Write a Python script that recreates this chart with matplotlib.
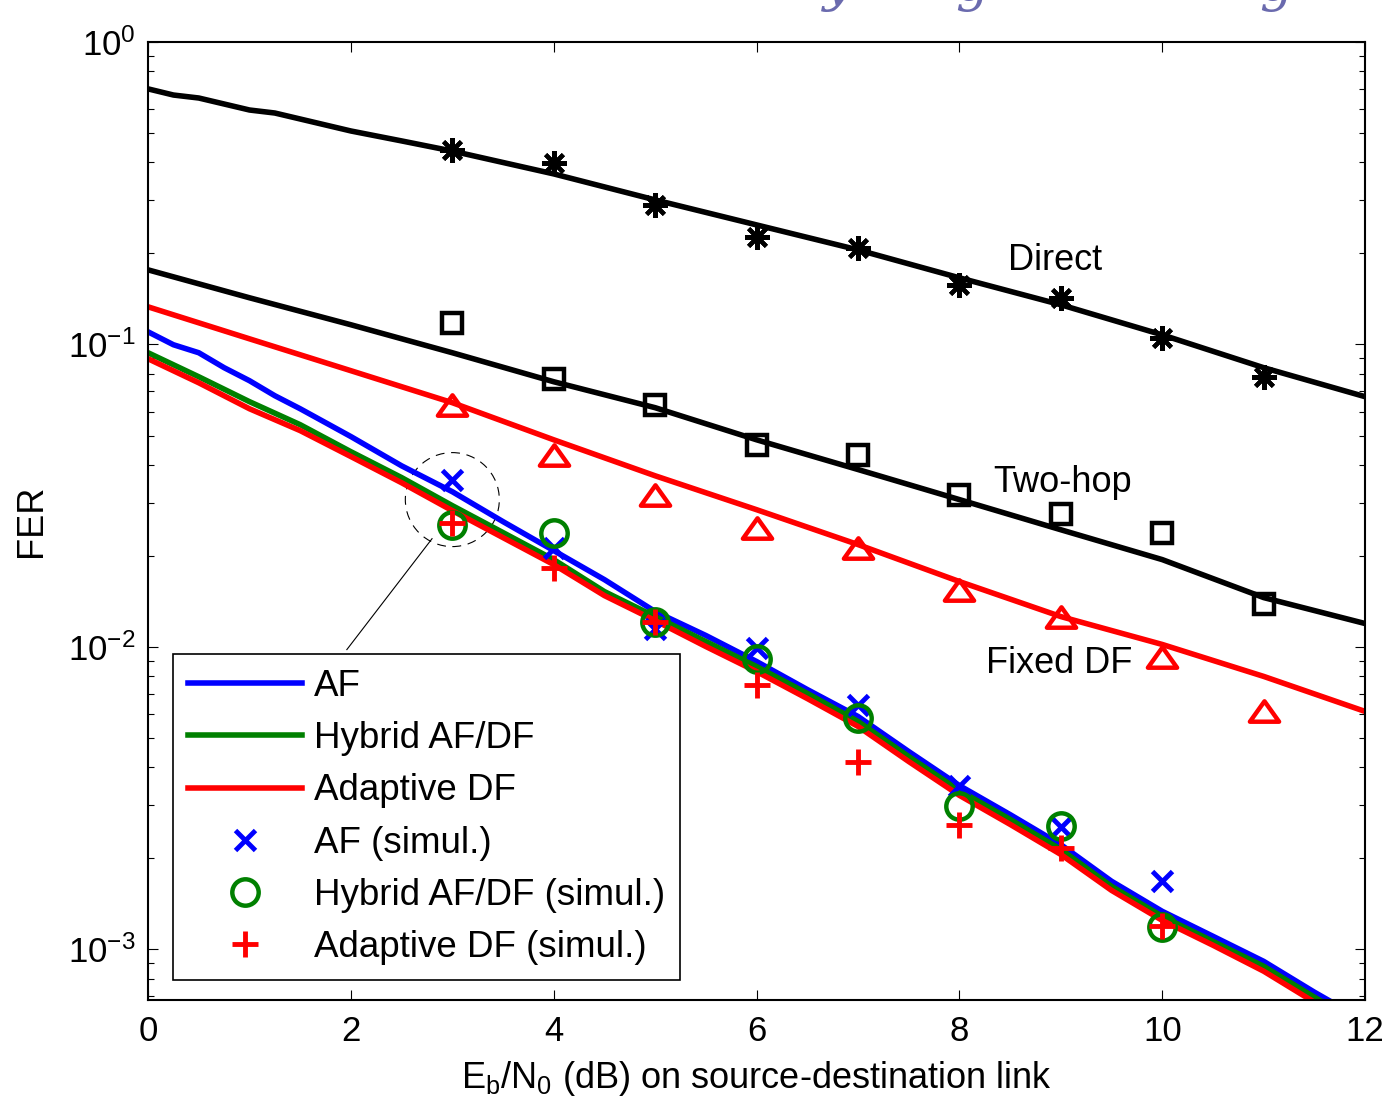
import matplotlib
matplotlib.use("Agg")
import matplotlib.pyplot as plt
import matplotlib.transforms as mtransforms
from matplotlib.patches import Circle
from matplotlib.path import Path
from matplotlib.ticker import LogLocator, NullFormatter, MultipleLocator

plt.rcParams['font.family'] = ['Liberation Sans', 'DejaVu Sans']
plt.rcParams['mathtext.fontset'] = 'custom'
plt.rcParams['mathtext.rm'] = 'Liberation Sans'
plt.rcParams['axes.unicode_minus'] = False

# Eb/N0 grids (dB)
snr_int = [0, 1, 2, 3, 4, 5, 6, 7, 8, 9, 10, 11, 12]
snr_half = [0, 0.5, 1, 1.5, 2, 2.5, 3, 3.5, 4, 4.5, 5, 5.5, 6,
            6.5, 7, 7.5, 8, 8.5, 9, 9.5, 10, 10.5, 11, 11.5, 12]
snr_sim = [3, 4, 5, 6, 7, 8, 9, 10]
snr_sim2 = [3, 4, 5, 6, 7, 8, 9, 10, 11]

# analytical curves
snr_direct = [0, 0.25, 0.5, 1, 1.25, 2, 2.5, 3, 4, 5, 6, 7, 8, 9, 10, 11, 12]
fer_direct = [0.70, 0.668, 0.653, 0.596, 0.5825, 0.508, 0.471, 0.436, 0.3664,
              0.3006, 0.2485, 0.2055, 0.1661, 0.1353, 0.1076, 0.0838, 0.0672]
fer_twohop = [0.1765, 0.1427, 0.1162, 0.0939, 0.0753, 0.0618, 0.0484,
              0.0386, 0.0307, 0.0244, 0.01944, 0.01456, 0.01195]
fer_fixed = [0.1332, 0.1044, 0.0819, 0.0642, 0.0484, 0.0368, 0.02843,
             0.0218, 0.01645, 0.0126, 0.01019, 0.00799, 0.00612]

snr_af = [0, 0.25, 0.5, 0.75, 1, 1.25, 1.5, 2, 2.5, 3, 3.5, 4, 4.5, 5, 5.5, 6,
          6.5, 7, 7.5, 8, 8.5, 9, 9.5, 10, 10.5, 11, 11.5, 12]
fer_af = [0.1101, 0.0998, 0.0939, 0.0838, 0.0759, 0.0677, 0.0613, 0.0496,
          0.0397, 0.0326, 0.02596, 0.02082, 0.01669, 0.01309, 0.01091, 0.00895,
          0.00723, 0.00589, 0.00451, 0.00348, 0.00279, 0.00222, 0.00168,
          0.001336, 0.001105, 0.000913, 0.000722, 0.000579]
fer_hybrid = [0.0939, 0.0782, 0.0647, 0.0543, 0.0442, 0.0363, 0.02932, 0.02388,
              0.01944, 0.01524, 0.0126, 0.01042, 0.00861, 0.00702, 0.00567,
              0.00434, 0.00335, 0.00269, 0.00214, 0.001616, 0.001286,
              0.001063, 0.000879, 0.000695, 0.000557]
fer_adaptive = [0.0897, 0.0747, 0.0613, 0.0519, 0.0426, 0.0349, 0.02822,
                0.02298, 0.01872, 0.01478, 0.01222, 0.01003, 0.00829, 0.00675,
                0.00546, 0.00418, 0.00323, 0.00259, 0.00206, 0.001567,
                0.001247, 0.001032, 0.000847, 0.000669, 0.000536]

# simulation points
sim_direct = [0.4397, 0.3983, 0.2893, 0.2269, 0.2087, 0.1575, 0.1427, 0.1052, 0.0782]
sim_twohop = [0.118, 0.077, 0.0632, 0.0466, 0.0432, 0.0319, 0.0276, 0.02388, 0.01391]
sim_fixed = [0.0632, 0.0432, 0.0319, 0.0248, 0.0213, 0.01547, 0.0126, 0.00923, 0.00612]
sim_af = [0.0357, 0.0213, 0.01142, 0.00995, 0.00645, 0.00346, 0.00253, 0.00168]
sim_hybrid = [0.02537, 0.02388, 0.01213, 0.00909, 0.00584, 0.00297, 0.00255, 0.001183]
sim_adaptive = [0.02576, 0.0183, 0.01213, 0.00746, 0.00418, 0.00257, 0.00217, 0.001192]

fig = plt.figure(figsize=(13.89, 11.06), dpi=100)
ax = fig.add_axes([0.1066, 0.0958, 0.8762, 0.8662])

lw = 4
fs = 26
asterisk = (8, 2, 0)
tri = Path([(0, 0.7), (-1, -0.7), (1, -0.7), (0, 0.7)], closed=True)

ax.semilogy(snr_direct, fer_direct, color='k', lw=lw)
ax.semilogy(snr_int, fer_twohop, color='k', lw=lw)
ax.semilogy(snr_int, fer_fixed, color='r', lw=lw)
ax.semilogy(snr_sim2, sim_direct, ls='none', marker=asterisk, ms=18, mew=3, color='k')
ax.semilogy(snr_sim2, sim_twohop, ls='none', marker='s', ms=15, mew=3.2,
            mfc='none', mec='k')
ax.semilogy(snr_sim2, sim_fixed, ls='none', marker=tri, ms=21, mew=3.2,
            mfc='none', mec='r')

h1, = ax.semilogy(snr_af, fer_af, color='b', lw=lw, label='AF')
h2, = ax.semilogy(snr_half, fer_hybrid, color='g', lw=lw, label='Hybrid AF/DF')
h3, = ax.semilogy(snr_half, fer_adaptive, color='r', lw=lw, label='Adaptive DF')
h4, = ax.semilogy(snr_sim, sim_af, ls='none', marker='x', ms=15, mew=3.5,
                  color='b', label='AF (simul.)')
h5, = ax.semilogy(snr_sim, sim_hybrid, ls='none', marker='o', ms=19, mew=3.2,
                  mfc='none', mec='g', label='Hybrid AF/DF (simul.)')
h6, = ax.semilogy(snr_sim, sim_adaptive, ls='none', marker='+', ms=19, mew=3.5,
                  color='r', label='Adaptive DF (simul.)')

ax.set_xlim(0, 12)
ax.set_ylim(6.8e-4, 1)
ax.xaxis.set_major_locator(MultipleLocator(2))
ax.yaxis.set_major_locator(LogLocator(base=10, numticks=10))
ax.yaxis.set_minor_locator(LogLocator(base=10, subs=range(2, 10), numticks=20))
ax.yaxis.set_minor_formatter(NullFormatter())
ax.tick_params(which='both', direction='in', top=True, right=True,
               labelsize=25, width=0.8)
ax.tick_params(which='major', length=7.5)
ax.tick_params(which='minor', length=4)
ax.tick_params(axis='x', pad=11)
ax.tick_params(axis='y', pad=9)
for s in ax.spines.values():
    s.set_linewidth(1.5)

ax.set_xlabel('E$_\\mathregular{b}$/N$_\\mathregular{0}$ (dB) on source-destination link',
              fontsize=fs, labelpad=8)
ax.set_ylabel('FER', fontsize=fs, labelpad=14)

ax.text(8.48, 0.1765, 'Direct', fontsize=fs)
ax.text(8.33, 0.0326, 'Two-hop', fontsize=fs)
ax.text(8.26, 0.00823, 'Fixed DF', fontsize=fs)

# dashed circle around the 3 dB points, plus its pointer line
circ_tr = fig.dpi_scale_trans + mtransforms.ScaledTranslation(3.0, 0.0307, ax.transData)
ax.add_patch(Circle((0, 0), 0.47, transform=circ_tr, fill=False, color='k',
                    lw=0.8, ls=(0, (8, 6))))
ax.plot([2.8, 1.96], [0.0228, 0.0098], color='k', lw=0.8)

leg = ax.legend(handles=[h1, h2, h3, h4, h5, h6], loc='lower left',
                bbox_to_anchor=(0.0205, 0.0209), borderaxespad=0,
                fontsize=26.5, fancybox=False, framealpha=1, edgecolor='k',
                borderpad=0.4, handlelength=3.1, handletextpad=0.33,
                labelspacing=0.47, numpoints=1)
leg.get_frame().set_linewidth(1.2)

# clipped slide title peeking in at the very top
for xt, ch in [(0.603, 'y'), (0.700, 'g'), (0.919, 'g')]:
    fig.text(xt, 1.0, ch, fontsize=38, color='#6a6aae', ha='center',
             va='baseline', family='DejaVu Serif', style='italic')

fig.savefig('out.png', dpi=100)
